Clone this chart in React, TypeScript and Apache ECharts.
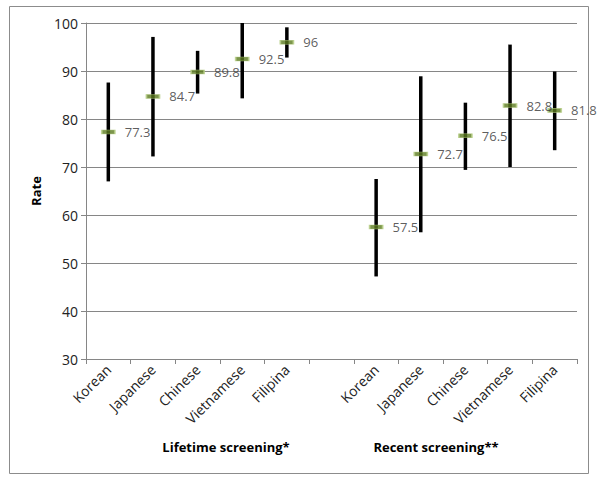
import React, { useEffect, useRef } from "react";
import * as echarts from "echarts";

const categories = ["Korean", "Japanese", "Chinese", "Vietnamese", "Filipina", "", "Korean", "Japanese", "Chinese", "Vietnamese", "Filipina"];
const groupLabels = ["Lifetime screening*", "Recent screening**"];

const lifetimeRate = [77.3, 84.7, 89.8, 92.5, 96];
const lifetimeLow = [67.0, 72.2, 85.3, 84.3, 92.8];
const lifetimeHigh = [87.6, 97.1, 94.2, 100, 99.1];

const recentRate = [57.5, 72.7, 76.5, 82.8, 81.8];
const recentLow = [47.2, 56.4, 69.4, 70.0, 73.5];
const recentHigh = [67.5, 88.9, 83.4, 95.5, 89.9];

const yMin = 30;
const yMax = 100;
const yStep = 10;

const FONT = "'Open Sans', 'Liberation Sans', sans-serif";

export default function App() {
  const ref = useRef<HTMLDivElement>(null);

  useEffect(() => {
    if (!ref.current) return;
    const chart = echarts.init(ref.current, null, { renderer: "svg" });

    const points: number[][] = [];
    const bars: number[][] = [];
    lifetimeRate.forEach((v, i) => {
      points.push([i, v]);
      bars.push([i, lifetimeLow[i], lifetimeHigh[i]]);
    });
    recentRate.forEach((v, i) => {
      points.push([i + 6, v]);
      bars.push([i + 6, recentLow[i], recentHigh[i]]);
    });

    chart.setOption({
      animation: false,
      textStyle: { fontFamily: FONT },
      grid: { left: 86, right: 23, top: 23, bottom: 121 },
      graphic: [
        {
          type: "rect",
          shape: { x: 9.5, y: 6.5, width: 579, height: 467 },
          style: { fill: "none", stroke: "#8c8c8c", lineWidth: 1 },
          silent: true,
        },
        {
          type: "text",
          x: 226,
          y: 447,
          style: {
            text: groupLabels[0],
            font: `bold 13px ${FONT}`,
            fill: "#000",
            textAlign: "center",
            textVerticalAlign: "middle",
          },
        },
        {
          type: "text",
          x: 436,
          y: 447,
          style: {
            text: groupLabels[1],
            font: `bold 13px ${FONT}`,
            fill: "#000",
            textAlign: "center",
            textVerticalAlign: "middle",
          },
        },
      ],
      xAxis: {
        type: "category",
        data: categories,
        boundaryGap: true,
        axisLine: { lineStyle: { color: "#868686" } },
        axisTick: { show: true, length: 5, interval: 0, lineStyle: { color: "#868686" } },
        axisLabel: {
          interval: 0,
          rotate: 45,
          fontSize: 14,
          color: "#222",
          margin: 8,
          fontFamily: FONT,
        },
        splitLine: { show: false },
      },
      yAxis: {
        type: "value",
        min: yMin,
        max: yMax,
        interval: yStep,
        name: "Rate",
        nameLocation: "middle",
        nameGap: 44,
        nameTextStyle: { fontWeight: "bold", fontSize: 13, color: "#000", fontFamily: FONT },
        axisLine: { show: true, lineStyle: { color: "#868686" } },
        axisTick: { show: true, length: 5, lineStyle: { color: "#868686" } },
        axisLabel: { fontSize: 14, color: "#222", margin: 8, fontFamily: FONT },
        splitLine: { show: true, lineStyle: { color: "#868686", width: 1 } },
      },
      series: [
        {
          type: "custom",
          data: bars,
          encode: { x: 0, y: [1, 2] },
          renderItem: (params: any, api: any) => {
            const lo = api.coord([api.value(0), api.value(1)]);
            const hi = api.coord([api.value(0), api.value(2)]);
            return {
              type: "line",
              shape: { x1: lo[0], y1: lo[1], x2: hi[0], y2: hi[1] },
              style: { stroke: "#000", lineWidth: 3.5 },
            };
          },
          z: 2,
        },
        {
          type: "scatter",
          data: points,
          symbol: "rect",
          symbolSize: [13, 4],
          itemStyle: { color: "#5b7a1f", borderColor: "#b5cd85", borderWidth: 1 },
          label: {
            show: true,
            position: "right",
            distance: 9,
            fontSize: 13,
            color: "#333",
            fontFamily: FONT,
            formatter: (p: any) => String(p.value[1]),
          },
          z: 3,
        },
      ],
    });

    return () => chart.dispose();
  }, []);

  return (
    <div
      ref={ref}
      style={{ position: "absolute", left: 0, top: 0, width: 600, height: 480, background: "#fff" }}
    />
  );
}
